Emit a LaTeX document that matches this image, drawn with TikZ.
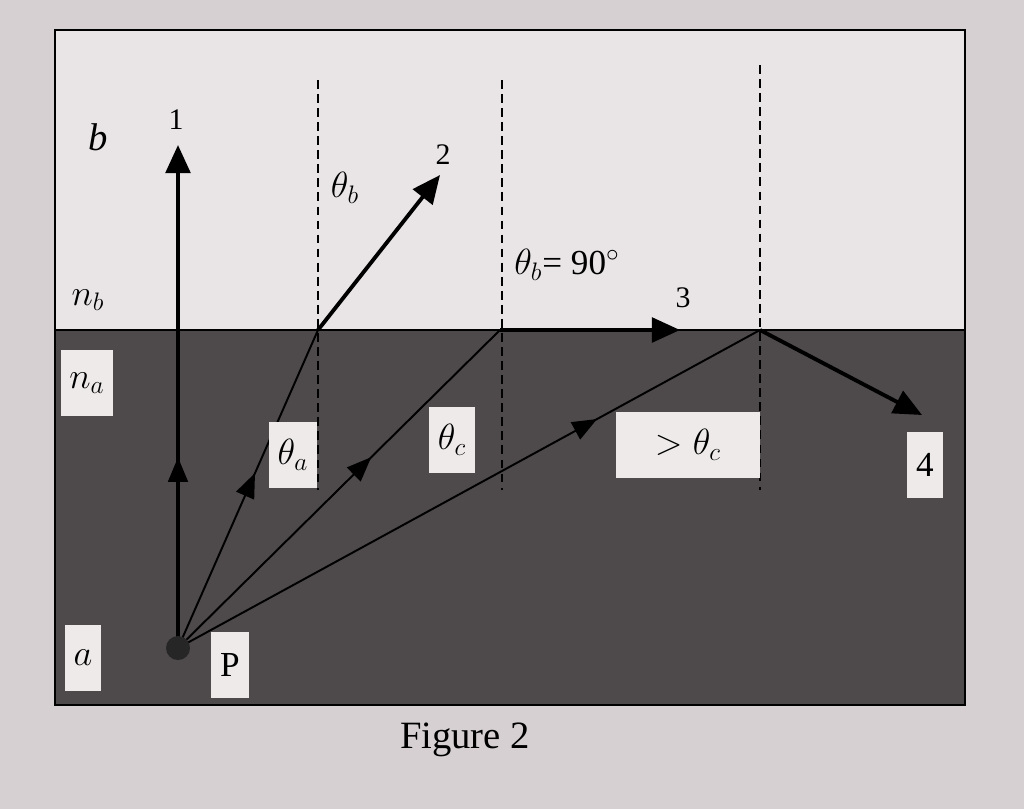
\documentclass[tikz,border=0pt]{standalone}
\usepackage{fontspec}
\setmainfont{Liberation Serif}
\usetikzlibrary{arrows.meta,decorations.markings}
\definecolor{bgc}{HTML}{D6D0D2}
\definecolor{topc}{HTML}{E9E5E7}
\definecolor{darkc}{HTML}{4E494B}
\definecolor{boxc}{HTML}{EEEAEA}
\tikzset{
 lbl/.style={font=\fontsize{17}{20}\selectfont, inner sep=2pt},
 wbox/.style={lbl, fill=boxc, inner sep=5pt, minimum height=38pt},
 ray/.style={line width=1.1pt},
 bigarrow/.style={line width=2.2pt, -{Triangle[length=16pt,width=14pt]}},
 midarr/.style={postaction={decorate}, decoration={markings, mark=at position #1 with {\arrow{Triangle[length=14pt,width=11pt]}}}},
 dsh/.style={dashed, line width=1.1pt, dash pattern=on 5pt off 3pt}
}
\begin{document}
\begin{tikzpicture}[x=0.02cm,y=-0.02cm]
\useasboundingbox (0,0) rectangle (1024,809);
\fill[bgc] (0,0) rectangle (1024,809);
\fill[topc] (55,30) rectangle (965,330);
\fill[darkc] (55,330) rectangle (965,705);
\draw[line width=1.5pt] (55,30) rectangle (965,705);
\draw[line width=1.5pt] (55,330) -- (965,330);
% dashed normals
\draw[dsh] (318,80) -- (318,490);
\draw[dsh] (502,80) -- (502,490);
\draw[dsh] (760,65) -- (760,490);
\coordinate (P) at (178,648);
\coordinate (s2) at (318,330);
\coordinate (s3) at (500,330);
\coordinate (s4) at (760,330);
\coordinate (e1) at (178,145);
\coordinate (e2) at (440,175);
\coordinate (e3) at (680,330);
\coordinate (e4) at (922,415);
% rays
\draw[line width=2pt, midarr=0.6] (P) -- (178,330);
\draw[bigarrow] (178,335) -- (e1);
\draw[ray, midarr=0.55] (P) -- (s2);
\draw[bigarrow] (s2) -- (e2);
\draw[ray, midarr=0.6] (P) -- (s3);
\draw[bigarrow] (s3) -- (e3);
\draw[ray, midarr=0.72] (P) -- (s4);
\draw[bigarrow] (s4) -- (e4);
\fill[black!85] (P) circle (12);
% labels
\node[lbl,font=\fontsize{22}{24}\selectfont\itshape] (lb) at (98,137) {b};
\node[lbl] (l1) at (176,120) {1};
\node[lbl] (l2) at (443,155) {2};
\node[lbl] (l3) at (683,298) {3};
\node[lbl,font=\fontsize{20}{24}\selectfont] (tb) at (345,188) {$\theta_b$};
\node[lbl,font=\fontsize{20}{24}\selectfont] (tb90) at (567,265) {$\theta_b$= 90$^\circ$};
\node[lbl,font=\fontsize{20}{24}\selectfont] (nb) at (88,300) {$n_b$};
\node[wbox,font=\fontsize{20}{24}\selectfont] (na) at (87,383) {$n_a$};
\node[wbox,font=\fontsize{20}{24}\selectfont] (ta) at (293,455) {$\theta_a$};
\node[wbox,font=\fontsize{20}{24}\selectfont] (tc) at (452,440) {$\theta_c$};
\node[wbox,font=\fontsize{20}{24}\selectfont, minimum width=82pt] (gtc) at (688,445) {$>\theta_c$};
\node[wbox,font=\fontsize{20}{24}\selectfont] (l4) at (925,465) {4};
\node[wbox,font=\fontsize{20}{24}\selectfont] (la) at (83,658) {$a$};
\node[wbox,font=\fontsize{20}{24}\selectfont] (lP) at (230,665) {P};
\node[lbl,font=\fontsize{22}{26}\selectfont] (fig) at (465,740) {Figure 2};
\end{tikzpicture}
\end{document}
